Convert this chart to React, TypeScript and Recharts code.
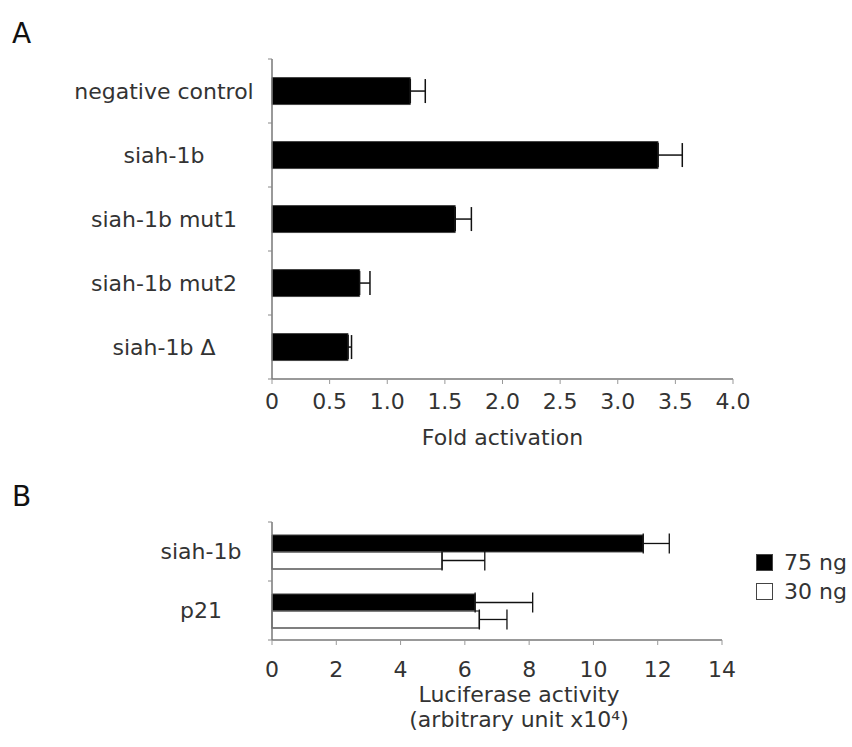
import React from 'react';
import { BarChart, Bar, XAxis, YAxis, ErrorBar, Legend, Label } from 'recharts';

const FONT = '"DejaVu Sans", Verdana, sans-serif';
const TXT = '#333';

// Panel A data
const categoriesA = ['negative control', 'siah-1b', 'siah-1b mut1', 'siah-1b mut2', 'siah-1b \u0394'];
const foldValues = [1.2, 3.35, 1.59, 0.76, 0.66];
const foldErrors = [0.13, 0.21, 0.14, 0.09, 0.03];
const ticksA = [0, 0.5, 1, 1.5, 2, 2.5, 3, 3.5, 4];

// Panel B data
const categoriesB = ['siah-1b', 'p21'];
const seriesNames = ['75 ng', '30 ng'];
const values75 = [11.55, 6.32];
const errors75 = [0.81, 1.79];
const values30 = [5.29, 6.45];
const errors30 = [1.33, 0.86];
const ticksB = [0, 2, 4, 6, 8, 10, 12, 14];

const dataA = categoriesA.map((name, i) => ({ name, value: foldValues[i], err: [0, foldErrors[i]] }));
const dataB = categoriesB.map((name, i) => ({
  name,
  v75: values75[i],
  e75: [0, errors75[i]],
  v30: values30[i],
  e30: [0, errors30[i]],
}));

const AXIS_X = 272;

function CatTick(props: any) {
  const { y, payload, index, centerX, band, count } = props;
  return (
    <g>
      <text x={centerX} y={y} textAnchor="middle" dominantBaseline="central" fontSize={22} fill={TXT} fontFamily={FONT}>
        {payload.value}
      </text>
      <line x1={AXIS_X - 4} x2={AXIS_X} y1={y - band / 2} y2={y - band / 2} stroke="#888" strokeWidth={1} />
      {index === count - 1 && (
        <line x1={AXIS_X - 4} x2={AXIS_X} y1={y + band / 2} y2={y + band / 2} stroke="#888" strokeWidth={1} />
      )}
    </g>
  );
}

function LegendBox() {
  const fills = ['#000', '#fff'];
  return (
    <div style={{ fontFamily: FONT, fontSize: 22, color: TXT }}>
      {seriesNames.map((n, i) => (
        <div key={n} style={{ display: 'flex', alignItems: 'center', height: 29 }}>
          <span
            style={{
              display: 'inline-block',
              width: 15,
              height: 15,
              border: '1.5px solid #444',
              background: fills[i],
              marginRight: 11,
            }}
          />
          <span>{n}</span>
        </div>
      ))}
    </div>
  );
}

export default function App() {
  const bandA = (379 - 59) / categoriesA.length;
  const bandB = (640 - 522) / categoriesB.length;
  return (
    <div style={{ position: 'absolute', left: 0, top: 0, width: 852, height: 747, background: '#fff', fontFamily: FONT }}>
      <svg width={852} height={747} style={{ position: 'absolute', left: 0, top: 0 }}>
        <text x={12} y={43} fontSize={28} fill="#111" fontFamily={FONT}>A</text>
        <text x={12} y={506} fontSize={28} fill="#111" fontFamily={FONT}>B</text>
      </svg>

      <div style={{ position: 'absolute', left: 0, top: 0 }}>
        <BarChart
          width={852}
          height={452}
          data={dataA}
          layout="vertical"
          margin={{ top: 59, right: 119, bottom: 0, left: 0 }}
          barCategoryGap="29%"
        >
          <XAxis
            type="number"
            domain={[0, 4]}
            ticks={ticksA}
            interval={0}
            tickFormatter={(v: number) => (v === 0 ? '0' : v.toFixed(1))}
            tick={{ fontSize: 22, fill: TXT, fontFamily: FONT }}
            tickSize={5}
            tickMargin={9}
            axisLine={{ stroke: '#777', strokeWidth: 1.5 }}
            tickLine={{ stroke: '#999' }}
            height={73}
          >
            <Label value="Fold activation" position="insideBottom" offset={7} style={{ fontSize: 22, fill: TXT, fontFamily: FONT }} />
          </XAxis>
          <YAxis
            type="category"
            dataKey="name"
            width={AXIS_X}
            interval={0}
            tickLine={false}
            axisLine={{ stroke: '#777', strokeWidth: 1.5 }}
            tick={(p: any) => <CatTick {...p} centerX={164} band={bandA} count={categoriesA.length} />}
          />
          <Bar dataKey="value" fill="#000" stroke="#444" strokeWidth={1} isAnimationActive={false}>
            <ErrorBar dataKey="err" direction="x" width={12} stroke="#111" strokeWidth={1.5} />
          </Bar>
        </BarChart>
      </div>

      <div style={{ position: 'absolute', left: 0, top: 460 }}>
        <BarChart
          width={852}
          height={287}
          data={dataB}
          layout="vertical"
          margin={{ top: 62, right: 130, bottom: 0, left: 0 }}
          barCategoryGap="22%"
          barGap={0}
        >
          <XAxis
            type="number"
            domain={[0, 14]}
            ticks={ticksB}
            interval={0}
            tick={{ fontSize: 22, fill: TXT, fontFamily: FONT }}
            tickSize={5}
            tickMargin={16}
            axisLine={{ stroke: '#777', strokeWidth: 1.5 }}
            tickLine={{ stroke: '#999' }}
            height={107}
          >
            <Label
              content={(props: any) => {
                const vb = props.viewBox || { x: 0, y: 0, width: 0 };
                const cx = vb.x + vb.width / 2 + 22;
                return (
                  <text x={cx} y={vb.y + 62} textAnchor="middle" fontSize={22} fill={TXT} fontFamily={FONT}>
                    <tspan x={cx}>Luciferase activity</tspan>
                    <tspan x={cx} dy={25}>(arbitrary unit x10⁴)</tspan>
                  </text>
                );
              }}
            />
          </XAxis>
          <YAxis
            type="category"
            dataKey="name"
            width={AXIS_X}
            interval={0}
            tickLine={false}
            axisLine={{ stroke: '#777', strokeWidth: 1.5 }}
            tick={(p: any) => <CatTick {...p} centerX={201} band={bandB} count={categoriesB.length} />}
          />
          <Legend
            layout="vertical"
            align="center"
            verticalAlign="middle"
            content={() => <LegendBox />}
            wrapperStyle={{ position: 'absolute', left: 756, top: 88, width: 'auto', height: 'auto' }}
          />
          <Bar dataKey="v75" name={seriesNames[0]} fill="#000" stroke="#444" strokeWidth={1} isAnimationActive={false}>
            <ErrorBar dataKey="e75" direction="x" width={10} stroke="#111" strokeWidth={1.3} />
          </Bar>
          <Bar dataKey="v30" name={seriesNames[1]} fill="#fff" stroke="#555" strokeWidth={1.5} isAnimationActive={false}>
            <ErrorBar dataKey="e30" direction="x" width={10} stroke="#111" strokeWidth={1.3} />
          </Bar>
        </BarChart>
      </div>
    </div>
  );
}
